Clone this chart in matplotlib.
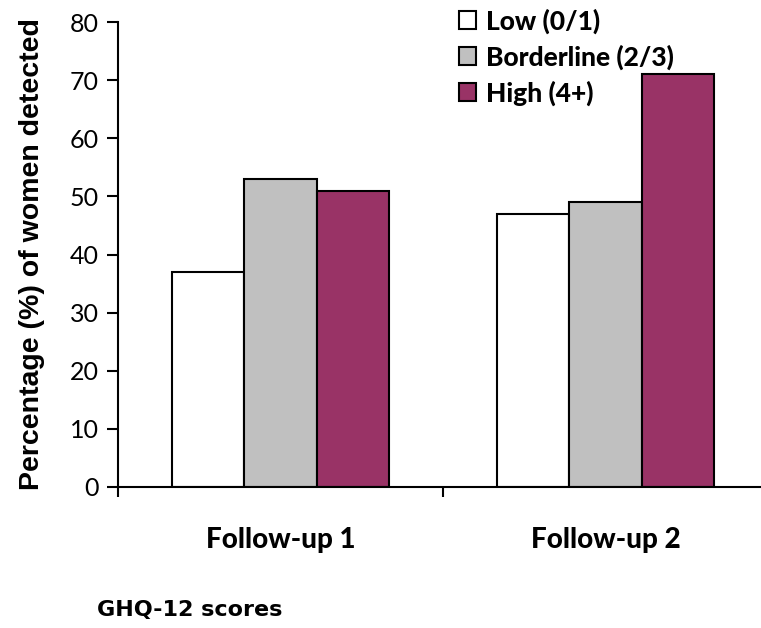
import matplotlib.pyplot as plt
import numpy as np

categories = ["Follow-up 1", "Follow-up 2"]
series = ["Low (0/1)", "Borderline (2/3)", "High (4+)"]
low = [37, 47]
borderline = [53, 49]
high = [51, 71]
colors = ["#FFFFFF", "#C0C0C0", "#993366"]
yticks = [0, 10, 20, 30, 40, 50, 60, 70, 80]

plt.rcParams['font.family'] = ['Lato', 'DejaVu Sans']

fig = plt.figure(figsize=(7.61, 6.28), dpi=100)
ax = fig.add_axes([118/761, 141/628, 650/761, 465/628])

x = np.arange(len(categories))
w = 0.223
for i, (vals, c, lab) in enumerate(zip([low, borderline, high], colors, series)):
    ax.bar(x + (i - 1)*w, vals, w, color=c, edgecolor="black", linewidth=1.5, label=lab)

ax.set_xlim(-0.5, 1.5)
ax.set_ylim(0, 80)
ax.set_yticks(yticks)
ax.set_yticklabels([str(v) for v in yticks], fontsize=18)
ax.set_xticks([-0.5, 0.5, 1.5])
ax.set_xticklabels([])
ax.set_xticks(x, minor=True)
ax.set_xticklabels(categories, minor=True, fontsize=20, fontweight="black")
ax.tick_params(axis="x", which="minor", length=0, pad=29)
ax.tick_params(axis="x", which="major", direction="out", length=7, width=1.5)
ax.tick_params(axis="y", direction="out", length=8, width=1.5, pad=6)
for s in ["top", "right"]:
    ax.spines[s].set_visible(False)
for s in ["left", "bottom"]:
    ax.spines[s].set_linewidth(1.5)

ax.set_ylabel("Percentage (%) of women detected", fontsize=20.5, fontweight="bold",
              family=["Liberation Sans", "DejaVu Sans"])
ax.yaxis.set_label_coords(-0.112, 0.5)

leg = ax.legend(loc="upper left", bbox_to_anchor=(330/650, 1.052), frameon=False,
                prop={"size": 19, "weight": "black"}, handlelength=0.68, handleheight=0.68,
                handletextpad=0.35, labelspacing=0.4, borderaxespad=0)

fig.text(97/761, 1 - 610/628, "GHQ-12 scores", fontsize=16, fontweight="bold",
         family=["DejaVu Sans"], va="center", ha="left")

fig.savefig("out.png", dpi=100)
